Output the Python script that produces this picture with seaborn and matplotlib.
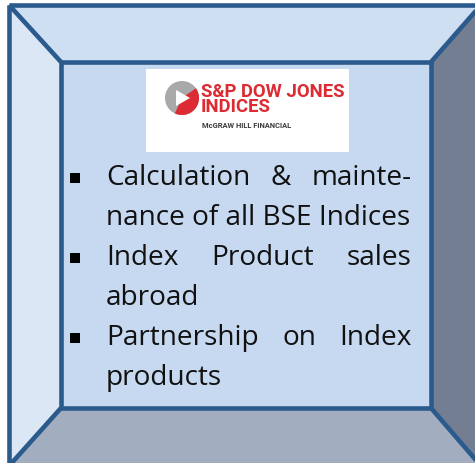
import matplotlib
matplotlib.use("Agg")
import matplotlib.pyplot as plt
import seaborn as sns
from matplotlib.patches import Polygon, Rectangle, Wedge

sns.set_theme(style="white")
plt.rcParams['font.family'] = ['Open Sans', 'DejaVu Sans']

# texto da caixa
bullet_lines = ["Calculation & mainte-", "nance of all BSE Indices",
                "Index Product sales", "abroad",
                "Partnership on Index", "products"]
justified = [True, False, True, False, True, False]
has_bullet = [True, False, True, False, True, False]

logo_lines = ["S&P DOW JONES", "INDICES"]
logo_sub = "McGRAW HILL FINANCIAL"

# geometria da moldura (pixels)
ol, ot, orr, ob = 9, 6, 481, 467
il, it, ir, ib = 61, 63, 431, 409
edge = '#2b5a8c'
cores = {'top': '#cfdff2', 'left': '#dce7f6', 'right': '#737e93',
         'bottom': '#a2adc0', 'front': '#c6d9f1'}

fig = plt.figure(figsize=(4.75, 4.64), dpi=100)
ax = fig.add_axes([0, 0, 1, 1])
ax.set_xlim(0, 475)
ax.set_ylim(464, 0)
ax.axis('off')

faces = {
    'top': [(ol, ot), (orr, ot), (ir, it), (il, it)],
    'left': [(ol, ot), (il, it), (il, ib), (ol, ob)],
    'right': [(orr, ot), (orr, ob), (ir, ib), (ir, it)],
    'bottom': [(ol, ob), (il, ib), (ir, ib), (orr, ob)],
    'front': [(il, it), (ir, it), (ir, ib), (il, ib)],
}
for nome, pts in faces.items():
    ax.add_patch(Polygon(pts, closed=True, facecolor=cores[nome], edgecolor='none'))

# contornos
lw = 3.3
for x0, y0, x1, y1 in [(ol, ot, orr, ob), (il, it, ir, ib)]:
    ax.add_patch(Rectangle((x0, y0), x1 - x0, y1 - y0, fill=False, edgecolor=edge,
                           linewidth=lw, joinstyle='miter'))
for (xa, ya), (xb, yb) in [((ol, ot), (il, it)), ((orr, ot), (ir, it)),
                           ((ol, ob), (il, ib)), ((orr, ob), (ir, ib))]:
    ax.plot([xa, xb], [ya, yb], color=edge, linewidth=lw, solid_capstyle='butt')

# logo
ax.add_patch(Rectangle((146, 70), 203, 83, facecolor='white', edgecolor='none'))
cx, cy, r = 182, 99, 17
ax.add_patch(Wedge((cx, cy), r, 0, 360, facecolor='#a9a9a9', edgecolor='none'))
ax.add_patch(Wedge((cx, cy), r, -35, 115, facecolor='#dc2b33', edgecolor='none'))
ax.add_patch(Polygon([(cx - 6, cy - 8), (cx - 6, cy + 8), (cx + 8, cy)],
                     facecolor='white', edgecolor='none'))
ax.text(201, 83, "\n".join(logo_lines), fontsize=13.3, fontweight='bold',
        color='#dc2b33', family='Roboto', va='top', ha='left', linespacing=0.82)
ax.text(202, 128, logo_sub, fontsize=5.4, fontweight='bold', color='#3a3a3a',
        family='Roboto', va='baseline', ha='left')

# texto com marcadores
fs = 20.2
x_left, x_right = 106, 412
base0, passo = 185, 40
renderer = fig.canvas.get_renderer()


def largura(s):
    t = ax.text(0, 0, s, fontsize=fs)
    w = t.get_window_extent(renderer).width
    t.remove()
    return w


for i, linha in enumerate(bullet_lines):
    y = base0 + i * passo
    if has_bullet[i]:
        ax.scatter([75], [y - 6], marker='s', s=55, color='black', linewidths=0)
    if justified[i]:
        palavras = linha.split()
        ws = [largura(p) for p in palavras]
        gap = (x_right - x_left - sum(ws)) / (len(palavras) - 1)
        x = x_left
        for p, w in zip(palavras, ws):
            ax.text(x, y, p, fontsize=fs, color='#111111', va='baseline', ha='left')
            x += w + gap
    else:
        ax.text(x_left, y, linha, fontsize=fs, color='#111111', va='baseline', ha='left')

fig.savefig('out.png', dpi=100)
